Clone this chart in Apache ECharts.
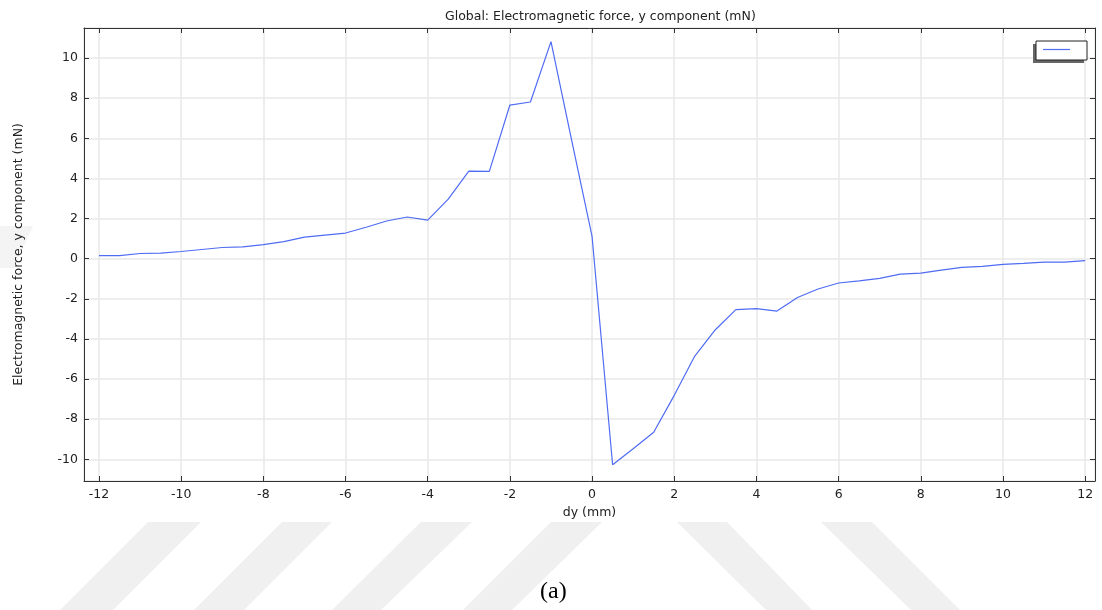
<!DOCTYPE html>
<html>
<head>
<meta charset="utf-8">
<script src="https://cdn.jsdelivr.net/npm/echarts@6/dist/echarts.min.js"></script>
<style>
html,body{margin:0;padding:0;background:#fff;}
#chart{width:1102px;height:610px;}
</style>
</head>
<body>
<div id="chart"></div>
<script>
// Data (dy in mm, force in mN)
const dy = [-12,-11.5,-11,-10.5,-10,-9.5,-9,-8.5,-8,-7.5,-7,-6.5,-6,-5.5,-5,-4.5,-4,-3.5,-3,-2.5,-2,-1.5,-1,-0.5,0,
            0.5,1,1.5,2,2.5,3,3.5,4,4.5,5,5.5,6,6.5,7,7.5,8,8.5,9,9.5,10,10.5,11,11.5,12];
const forceY = [0.15,0.15,0.26,0.28,0.36,0.46,0.56,0.59,0.70,0.85,1.08,1.18,1.28,1.57,1.88,2.08,1.92,2.97,4.37,4.35,7.66,7.81,10.82,5.93,1.11,
                -10.27,-9.47,-8.65,-6.81,-4.85,-3.54,-2.54,-2.49,-2.61,-1.93,-1.51,-1.21,-1.10,-0.98,-0.77,-0.72,-0.57,-0.43,-0.38,-0.28,-0.23,-0.17,-0.17,-0.10];
const titleText = 'Global: Electromagnetic force, y component (mN)';
const xName = 'dy (mm)';
const yName = 'Electromagnetic force, y component (mN)';
const caption = '(a)';

const chart = echarts.init(document.getElementById('chart'), null, {renderer: 'canvas'});
const font = 'DejaVu Sans';
const fs = 12.5;
const txt = '#222';
const axisColor = '#333';
const gridColor = '#e8e8e8';
const lineColor = '#4f6cf3';

const stripes = [
  [[148,522],[201,522],[113,610],[60,610]],
  [[282,522],[332,522],[244,610],[194,610]],
  [[421,522],[472,522],[381,610],[332,610]],
  [[551,522],[602,522],[512,610],[463,610]],
  [[677,522],[727,522],[812,610],[766,610]],
  [[821,522],[872,522],[960,610],[911,610]]
];

const graphics = stripes.map(p => ({
  type: 'polygon', shape: {points: p}, style: {fill: '#f0f0f0'}, z: -10, silent: true
}));
graphics.push({type: 'polygon', shape: {points: [[0,226],[33,226],[14,268],[0,268]]}, style: {fill: '#f4f4f4'}, z: -10, silent: true});
// legend box with shadow
graphics.push({type:'rect', shape:{x:1033, y:44, width:51, height:19}, style:{fill:'#666'}, z: 50});
graphics.push({type:'rect', shape:{x:1036, y:41, width:51, height:19}, style:{fill:'#fff', stroke:'#222', lineWidth:1}, z: 51});
graphics.push({type:'line', shape:{x1:1043, y1:49.5, x2:1070, y2:49.5}, style:{stroke:lineColor, lineWidth:1.2}, z: 52});
graphics.push({type:'text', left: 540, top: 580, style:{text: caption, font: '24px "Liberation Serif"', fill:'#000'}, z: 10});

const baseAxis = {
  type: 'value',
  axisLine: {show: true, onZero: false, lineStyle: {color: axisColor, width: 1}},
  axisTick: {show: true, inside: true, length: 5, lineStyle: {color: axisColor}}
};

const option = {
  animation: false,
  backgroundColor: '#fff',
  title: {
    text: titleText,
    left: 440, top: 5,
    textStyle: {fontFamily: font, fontSize: fs, fontWeight: 'normal', color: txt}
  },
  grid: {left: 84, right: 7, top: 28, bottom: 129, containLabel: false},
  graphic: graphics,
  xAxis: [
    Object.assign({}, baseAxis, {
      position: 'bottom', min: -12.365, max: 12.24, splitNumber: 12,
      name: xName, nameLocation: 'middle', nameGap: 22,
      nameTextStyle: {fontFamily: font, fontSize: fs, color: txt},
      axisLabel: {show: true, fontFamily: font, fontSize: fs, color: txt, margin: 7, showMinLabel: false, showMaxLabel: false},
      splitLine: {show: true, lineStyle: {color: gridColor, width: 1.5}}
    }),
    Object.assign({}, baseAxis, {
      position: 'top', min: -12.365, max: 12.24, splitNumber: 12,
      axisLabel: {show: false},
      splitLine: {show: false}
    })
  ],
  yAxis: [
    Object.assign({}, baseAxis, {
      position: 'left', min: -11.08, max: 11.5, splitNumber: 11,
      name: yName, nameLocation: 'middle', nameGap: 59, nameRotate: 90,
      nameTextStyle: {fontFamily: font, fontSize: fs, color: txt},
      axisLabel: {show: true, fontFamily: font, fontSize: fs, color: txt, margin: 6, showMinLabel: false, showMaxLabel: false},
      splitLine: {show: true, lineStyle: {color: gridColor, width: 1.5}}
    }),
    Object.assign({}, baseAxis, {
      position: 'right', min: -11.08, max: 11.5, splitNumber: 11,
      axisLabel: {show: false},
      splitLine: {show: false}
    })
  ],
  series: [{
    type: 'line',
    name: ' ',
    xAxisIndex: 0, yAxisIndex: 0,
    data: dy.map((x, i) => [x, forceY[i]]),
    symbol: 'none',
    lineStyle: {color: lineColor, width: 1.2},
    z: 5
  }]
};
chart.setOption(option);
</script>
</body>
</html>
